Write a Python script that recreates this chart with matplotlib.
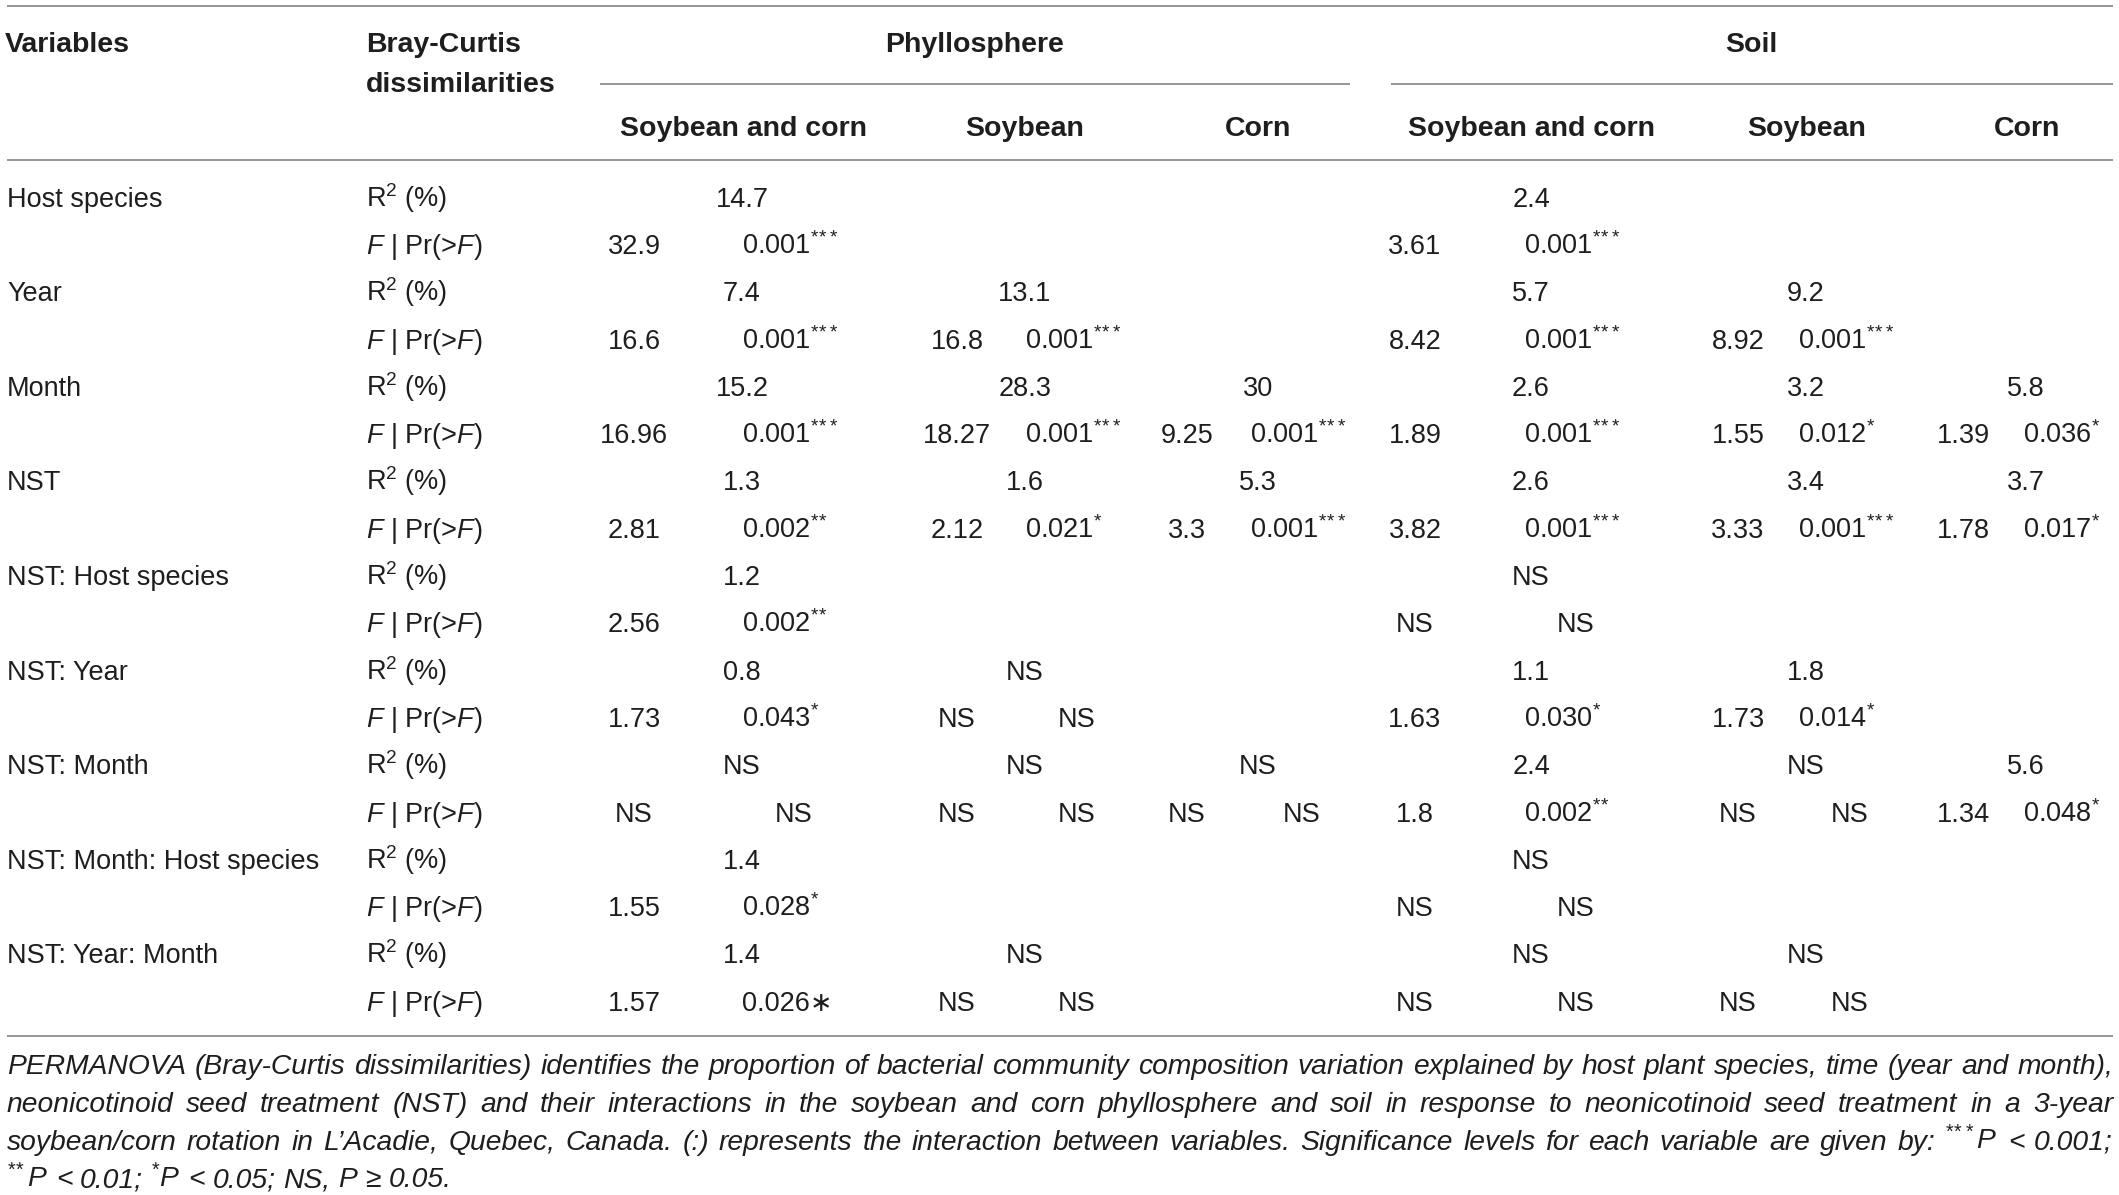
import matplotlib
matplotlib.use("Agg")
import matplotlib.pyplot as plt

plt.rcParams['font.family'] = ['Liberation Sans', 'DejaVu Sans']
plt.rcParams['mathtext.fontset'] = 'custom'
plt.rcParams['mathtext.rm'] = 'Liberation Sans'
plt.rcParams['mathtext.it'] = 'Liberation Sans:italic'
plt.rcParams['mathtext.bf'] = 'Liberation Sans:bold'

# ---------------- data ----------------
variables = ["Host species", "Year", "Month", "NST", "NST: Host species",
             "NST: Year", "NST: Month", "NST: Month: Host species", "NST: Year: Month"]
compartments = ["Phyllosphere", "Soil"]
hosts = ["Soybean and corn", "Soybean", "Corn"]

# Phyllosphere
r2_phy_sc = ["14.7", "7.4", "15.2", "1.3", "1.2", "0.8", "NS", "1.4", "1.4"]
f_phy_sc = ["32.9", "16.6", "16.96", "2.81", "2.56", "1.73", "NS", "1.55", "1.57"]
p_phy_sc = ["0.001***", "0.001***", "0.001***", "0.002**", "0.002**", "0.043*", "NS", "0.028*", "0.026\u2217"]

r2_phy_soy = [None, "13.1", "28.3", "1.6", None, "NS", "NS", None, "NS"]
f_phy_soy = [None, "16.8", "18.27", "2.12", None, "NS", "NS", None, "NS"]
p_phy_soy = [None, "0.001***", "0.001***", "0.021*", None, "NS", "NS", None, "NS"]

r2_phy_corn = [None, None, "30", "5.3", None, None, "NS", None, None]
f_phy_corn = [None, None, "9.25", "3.3", None, None, "NS", None, None]
p_phy_corn = [None, None, "0.001***", "0.001***", None, None, "NS", None, None]

# Soil
r2_soil_sc = ["2.4", "5.7", "2.6", "2.6", "NS", "1.1", "2.4", "NS", "NS"]
f_soil_sc = ["3.61", "8.42", "1.89", "3.82", "NS", "1.63", "1.8", "NS", "NS"]
p_soil_sc = ["0.001***", "0.001***", "0.001***", "0.001***", "NS", "0.030*", "0.002**", "NS", "NS"]

r2_soil_soy = [None, "9.2", "3.2", "3.4", None, "1.8", "NS", None, "NS"]
f_soil_soy = [None, "8.92", "1.55", "3.33", None, "1.73", "NS", None, "NS"]
p_soil_soy = [None, "0.001***", "0.012*", "0.001***", None, "0.014*", "NS", None, "NS"]

r2_soil_corn = [None, None, "5.8", "3.7", None, None, "5.6", None, None]
f_soil_corn = [None, None, "1.39", "1.78", None, None, "1.34", None, None]
p_soil_corn = [None, None, "0.036*", "0.017*", None, None, "0.048*", None, None]

r2_cols = [r2_phy_sc, r2_phy_soy, r2_phy_corn, r2_soil_sc, r2_soil_soy, r2_soil_corn]
f_cols = [f_phy_sc, f_phy_soy, f_phy_corn, f_soil_sc, f_soil_soy, f_soil_corn]
p_cols = [p_phy_sc, p_phy_soy, p_phy_corn, p_soil_sc, p_soil_soy, p_soil_corn]

caption_lines = [
    "PERMANOVA (Bray-Curtis dissimilarities) identifies the proportion of bacterial community composition variation explained by host plant species, time (year and month),",
    "neonicotinoid seed treatment (NST) and their interactions in the soybean and corn phyllosphere and soil in response to neonicotinoid seed treatment in a 3-year",
    "soybean/corn rotation in L\u2019Acadie, Quebec, Canada. (:) represents the interaction between variables. Significance levels for each variable are given by: ***P < 0.001;",
    "**P < 0.01; *P < 0.05; NS, P \u2265 0.05.",
]

# ---------------- layout ----------------
W, H = 2119, 1195
TXT = "#1e1e1e"
LINE = "#8c8c8c"
BODY = 19.5
HEAD = 20.5
CAP = 18.5

fig = plt.figure(figsize=(W / 100, H / 100), dpi=100)
ax = fig.add_axes([0, 0, 1, 1])
ax.set_xlim(0, W)
ax.set_ylim(H, 0)
ax.axis('off')

X_LEFT, X_RIGHT = 7, 2113
X_STAT = 366
r2_x = [742, 1025, 1258, 1531, 1806, 2026]
f_x = [634, 957, 1187, 1415, 1738, 1963]
p_x = [742, 1025, 1250, 1524, 1798, 2023]
head_x = [743, 1025, 1258, 1532, 1807, 2027]
comp_x = [975, 1751]
comp_line = [(600, 1350), (1391, 2113)]
Y0, DY = 197, 47.3


def bl(yc, size=BODY):
    return yc + 0.716 * size * 100 / 72 / 2


def stars(n):
    return "$^{" + r"\!".join(["*"] * n) + "}$"


def fmt(s):
    n = len(s) - len(s.rstrip('*'))
    if n:
        return s[:-n] + stars(n)
    return s


# rules
for y in (6, 160, 1036):
    ax.plot([X_LEFT, X_RIGHT], [y, y], color=LINE, lw=1.3, solid_capstyle='butt')
for (a, b) in comp_line:
    ax.plot([a, b], [84, 84], color=LINE, lw=1.3, solid_capstyle='butt')

# header
hk = dict(fontsize=HEAD, fontweight='bold', color=TXT, va='baseline')
ax.text(5, bl(42, HEAD), "Variables", ha='left', **hk)
ax.text(X_STAT, bl(42, HEAD), "Bray-Curtis", ha='left', **hk)
ax.text(X_STAT, bl(82, HEAD), "dissimilarities", ha='left', **hk)
for cx, c in zip(comp_x, compartments):
    ax.text(cx, bl(42, HEAD), c, ha='center', **hk)
for k, hx in enumerate(head_x):
    ax.text(hx, bl(126, HEAD), hosts[k % 3], ha='center', **hk)

# body
bk = dict(fontsize=BODY, color=TXT, va='baseline')
r2_label = "R$^{2}$ (%)"
f_label = r"$\mathit{F}$ | Pr(>$\mathit{F}$)"
for i, var in enumerate(variables):
    yr = Y0 + 2 * i * DY
    yf = yr + DY
    ax.text(X_LEFT, bl(yr), var, ha='left', **bk)
    ax.text(X_STAT, bl(yr), r2_label, ha='left', **bk)
    ax.text(X_STAT, bl(yf), f_label, ha='left', **bk)
    for g in range(6):
        r2 = r2_cols[g][i]
        fv = f_cols[g][i]
        pv = p_cols[g][i]
        if r2 is not None:
            ax.text(r2_x[g], bl(yr), r2, ha='center', **bk)
        if fv is not None:
            ax.text(f_x[g], bl(yf), fv, ha='center', **bk)
        if pv is not None:
            if pv == "NS":
                ax.text(p_x[g] + 52, bl(yf), pv, ha='center', **bk)
            else:
                ax.text(p_x[g], bl(yf), fmt(pv), ha='left', **bk)

# caption (justified)
renderer = fig.canvas.get_renderer()


def cap_word(w):
    n = len(w) - len(w.lstrip('*'))
    if n:
        return stars(n) + w[n:]
    return w


cap_y = [1064, 1102, 1139.5, 1177]
size = CAP
target = X_RIGHT - X_LEFT
all_texts = []
for li, line in enumerate(caption_lines):
    words = [cap_word(w) for w in line.split(' ')]
    ts = [ax.text(0, bl(cap_y[li], size), w, fontsize=size, style='italic',
                  color=TXT, va='baseline', ha='left') for w in words]
    all_texts.append(ts)

space = 0.278 * size * 100 / 72
widths = [[t.get_window_extent(renderer).width for t in ts] for ts in all_texts]
nat = [sum(ws) + space * (len(ws) - 1) for ws in widths[:3]]
scale = min(1.15, (target - 6) / max(nat))
size = size * scale
space = space * scale
for ts in all_texts:
    for t in ts:
        t.set_fontsize(size)
widths = [[t.get_window_extent(renderer).width for t in ts] for ts in all_texts]

for li, ts in enumerate(all_texts):
    ws = widths[li]
    if li < 3 and len(ts) > 1:
        gap = (target - sum(ws)) / (len(ts) - 1)
    else:
        gap = space
    x = X_LEFT
    for t, w in zip(ts, ws):
        t.set_position((x, bl(cap_y[li], size)))
        x += w + gap

fig.savefig("out.png", dpi=100)
